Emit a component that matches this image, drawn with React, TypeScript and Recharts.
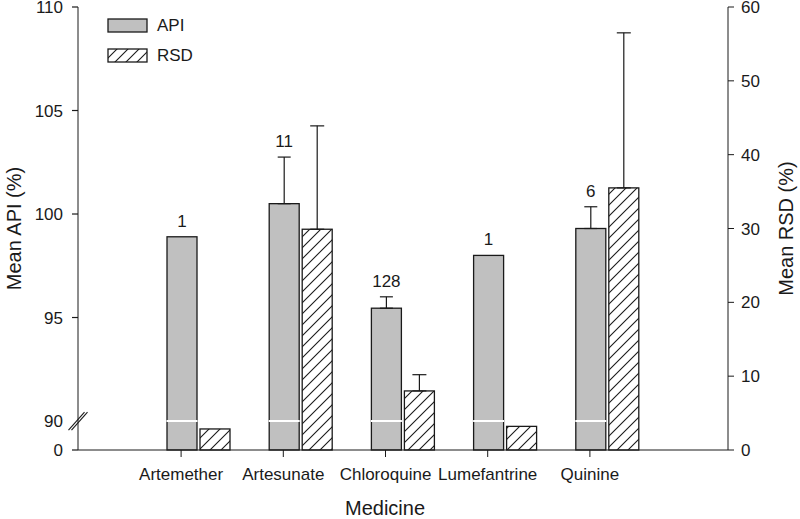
import React from "react";
import { BarChart, Bar, XAxis, YAxis, ErrorBar, LabelList, Legend } from "recharts";

const medicines = ["Artemether", "Artesunate", "Chloroquine", "Lumefantrine", "Quinine"];
const apiMean = [98.9, 100.5, 95.45, 98.0, 99.3];
const apiErr: (number | null)[] = [null, 2.25, 0.55, null, 1.05];
const rsdMean = [2.85, 29.9, 8.0, 3.2, 35.5];
const rsdErr: (number | null)[] = [null, 14.0, 2.2, null, 21.0];
const sampleCounts = [1, 11, 128, 1, 6];

const apiTicks = [90, 95, 100, 105, 110];
const rsdTicks = [0, 10, 20, 30, 40, 50, 60];
// the left axis is broken: "0" is drawn just below 90
const API_ZERO = 88.6;
const API_BREAK = 90;

const FONT = '"Liberation Sans", Arial, sans-serif';
const INK = "#1a1a1a";
const GREY = "#c0c0c0";

const data = medicines.map((name, i) => ({
  name,
  api: apiMean[i],
  apiErr: apiErr[i] == null ? null : [0, apiErr[i]],
  rsd: rsdMean[i],
  rsdErr: rsdErr[i] == null ? null : [0, rsdErr[i]],
  n: sampleCounts[i],
}));

function ApiBar(props: any) {
  const { x, y, width, height, payload } = props;
  if (!height) return null;
  const perUnit = height / (payload.api - API_ZERO);
  const breakY = y + height - (API_BREAK - API_ZERO) * perUnit;
  return (
    <g>
      <rect x={x} y={y} width={width} height={height} fill={GREY} stroke={INK} strokeWidth={1.3} />
      <line x1={x - 0.5} x2={x + width + 0.5} y1={breakY} y2={breakY} stroke="#fff" strokeWidth={2} />
    </g>
  );
}

function RsdBar(props: any) {
  const { x, y, width, height } = props;
  return <rect x={x} y={y} width={width} height={height} fill="url(#hatch)" stroke={INK} strokeWidth={1.3} />;
}

function CountLabel(props: any) {
  const { x, y, width, height, index } = props;
  const perUnit = height / (apiMean[index] - API_ZERO);
  const top = y - (apiErr[index] ?? 0) * perUnit;
  return (
    <text x={x + width / 2} y={top - 10} textAnchor="middle" fontSize={17} fill={INK} fontFamily={FONT}>
      {sampleCounts[index]}
    </text>
  );
}

function ApiTick(props: any) {
  const { x, y, payload } = props;
  const ax = x + 15;
  const isZero = payload.value === API_ZERO;
  return (
    <g>
      {payload.value === API_BREAK ? (
        <g stroke={INK} strokeWidth={1.1}>
          <line x1={ax - 9.5} y1={y + 9} x2={ax + 6.5} y2={y - 9} />
          <line x1={ax - 6.5} y1={y + 9} x2={ax + 9.5} y2={y - 9} />
        </g>
      ) : (
        <line x1={ax - 6} x2={ax} y1={y} y2={y} stroke={INK} strokeWidth={1.2} />
      )}
      <text x={x} y={y} dy="0.36em" textAnchor="end" fontSize={17} fill={INK} fontFamily={FONT}>
        {isZero ? "0" : payload.value}
      </text>
    </g>
  );
}

function HatchDef({ id }: { id: string }) {
  return (
    <pattern id={id} patternUnits="userSpaceOnUse" width={11} height={11}>
      <rect width={11} height={11} fill="#fff" />
      <path d="M-2,2 L2,-2 M0,11 L11,0 M9,13 L13,9" stroke={INK} strokeWidth={1.1} />
    </pattern>
  );
}

function LegendBox() {
  return (
    <div style={{ fontFamily: FONT, fontSize: 17, color: INK }}>
      <div style={{ display: "flex", alignItems: "center", height: 15, marginBottom: 15 }}>
        <svg width={41} height={15}>
          <rect x={1} y={1} width={39} height={13} fill={GREY} stroke={INK} strokeWidth={1.3} />
        </svg>
        <span style={{ marginLeft: 9 }}>API</span>
      </div>
      <div style={{ display: "flex", alignItems: "center", height: 15 }}>
        <svg width={41} height={15}>
          <defs>
            <HatchDef id="hatchLegend" />
          </defs>
          <rect x={1} y={1} width={39} height={13} fill="url(#hatchLegend)" stroke={INK} strokeWidth={1.3} />
        </svg>
        <span style={{ marginLeft: 9 }}>RSD</span>
      </div>
    </div>
  );
}

export default function App() {
  return (
    <div style={{ position: "absolute", left: 0, top: 0, width: 800, height: 519, background: "#fff" }}>
      <BarChart
        width={800}
        height={519}
        data={data}
        margin={{ top: 7, right: 0, bottom: 0, left: 0 }}
        barSize={30}
        barGap={3}
        style={{ fontFamily: FONT }}
      >
        <defs>
          <HatchDef id="hatch" />
        </defs>
        <XAxis xAxisId="bars" dataKey="name" type="category" hide height={0} padding={{ left: 69, right: 70 }} />
        <XAxis
          xAxisId="cat"
          dataKey="name"
          type="category"
          height={69}
          padding={{ left: 52, right: 87 }}
          stroke={INK}
          tickSize={7}
          tickMargin={11}
          tick={{ fill: INK, fontSize: 17 }}
          label={{ value: "Medicine", position: "center", dx: -18, dy: 23, fontSize: 20, fill: INK }}
        />
        <YAxis
          yAxisId="api"
          orientation="left"
          width={78}
          type="number"
          domain={[API_ZERO, 110]}
          ticks={[API_ZERO, ...apiTicks]}
          interval={0}
          stroke={INK}
          tickLine={false}
          tickSize={6}
          tickMargin={9}
          tick={<ApiTick />}
          label={{ value: "Mean API (%)", angle: -90, position: "center", dx: -25, fontSize: 20, fill: INK }}
        />
        <YAxis
          yAxisId="rsd"
          orientation="right"
          width={72}
          type="number"
          domain={[0, 60]}
          ticks={rsdTicks}
          interval={0}
          stroke={INK}
          tickSize={6}
          tickMargin={7}
          tick={{ fill: INK, fontSize: 17 }}
          label={{ value: "Mean RSD (%)", angle: -90, position: "center", dx: 22, fontSize: 20, fill: INK }}
        />
        <Legend
          layout="vertical"
          verticalAlign="middle"
          align="center"
          wrapperStyle={{ left: 107, top: 18, width: "auto" }}
          content={() => <LegendBox />}
        />
        <Bar
          dataKey="api"
          name="API"
          xAxisId="bars"
          yAxisId="api"
          shape={<ApiBar />}
          isAnimationActive={false}
        >
          <ErrorBar dataKey="apiErr" width={6.5} stroke={INK} strokeWidth={1.2} direction="y" />
          <LabelList dataKey="n" content={<CountLabel />} />
        </Bar>
        <Bar
          dataKey="rsd"
          name="RSD"
          xAxisId="bars"
          yAxisId="rsd"
          shape={<RsdBar />}
          isAnimationActive={false}
        >
          <ErrorBar dataKey="rsdErr" width={7} stroke={INK} strokeWidth={1.2} direction="y" />
        </Bar>
      </BarChart>
    </div>
  );
}
